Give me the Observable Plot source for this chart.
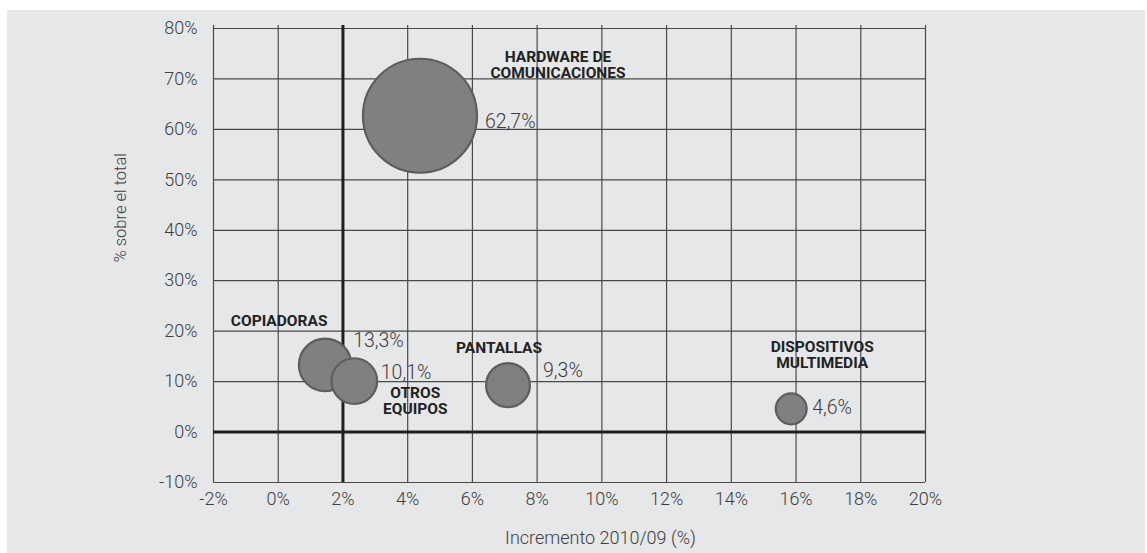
<!DOCTYPE html>
<html>
<head>
<meta charset="utf-8">
<script src="https://cdn.jsdelivr.net/npm/d3@7"></script>
<script src="https://cdn.jsdelivr.net/npm/@observablehq/plot@0.6"></script>
<style>
  html, body { margin: 0; padding: 0; background: #ffffff; }
  #panel { position: absolute; left: 7px; top: 10px; width: 1138px; height: 543px; background: #e6e7e9; }
  #panel svg { display: block; background: transparent; }
</style>
</head>
<body>
<div id="panel"></div>
<script>
// ---- data ----
const categories = ["HARDWARE DE\nCOMUNICACIONES", "COPIADORAS", "OTROS\nEQUIPOS", "PANTALLAS", "DISPOSITIVOS\nMULTIMEDIA"];
const growth = [4.38, 1.45, 2.35, 7.1, 15.85];          // Incremento 2010/09 (%)
const share = [62.7, 13.3, 10.1, 9.3, 4.6];              // % sobre el total
const shareLabels = ["62,7%", "13,3%", "10,1%", "9,3%", "4,6%"];
const xTicks = [-2, 0, 2, 4, 6, 8, 10, 12, 14, 16, 18, 20];
const yTicks = [-10, 0, 10, 20, 30, 40, 50, 60, 70, 80];
const xTitle = "Incremento 2010/09 (%)";
const yTitle = "% sobre el total";

const data = categories.map((c, i) => ({cat: c, growth: growth[i], share: share[i], label: shareLabels[i]}));

// annotation offsets (px) relative to each bubble centre
const valueOffsets = [[65, 6], [28, -24], [26.5, -8], [35, -14], [21, -1]];
const catOffsets = [[138, -50.5], [-46, -44], [61, 20], [-9, -37], [31, -54]];

const gridColor = "#4a4a4a";
const textColor = "#3d3d3d";
const font = "Roboto, 'Liberation Sans', sans-serif";

const marks = [
  Plot.ruleX(xTicks, {x: d => d, stroke: gridColor, strokeWidth: 1.2, insetTop: -3}),
  Plot.ruleY(yTicks, {y: d => d, stroke: gridColor, strokeWidth: 1.2}),
  Plot.ruleX([2], {x: d => d, stroke: "#1f1f1f", strokeWidth: 3, insetTop: -3}),
  Plot.ruleY([0], {y: d => d, stroke: "#1f1f1f", strokeWidth: 3}),
  Plot.axisX(xTicks, {tickSize: 0, tickPadding: 10, tickFormat: d => d + "%", fontSize: 18, fontWeight: 300, fill: textColor, label: null}),
  Plot.axisY(yTicks, {tickSize: 0, tickPadding: 16, tickFormat: d => d + "%", fontSize: 18, fontWeight: 300, fill: textColor, label: null}),
  Plot.dot(data, {x: "growth", y: "share", r: "share", fill: "#808083", stroke: "#5d5d5f", strokeWidth: 2.2, fillOpacity: 1}),
  Plot.text([xTitle], {frameAnchor: "bottom", dy: 56, dx: 31, text: d => d, fontSize: 18, fontWeight: 300, fill: textColor, lineAnchor: "middle"}),
  Plot.text([yTitle], {frameAnchor: "left", dx: -93, dy: 7, rotate: -90, text: d => d, fontSize: 16.5, fontWeight: 300, fill: textColor, lineAnchor: "middle"})
];

data.forEach((d, i) => {
  marks.push(Plot.text([d], {
    x: "growth", y: "share", text: "label",
    dx: valueOffsets[i][0], dy: valueOffsets[i][1],
    textAnchor: "start", lineAnchor: "middle",
    fontSize: 19.5, fontWeight: 300, fill: textColor
  }));
  marks.push(Plot.text([d], {
    x: "growth", y: "share", text: "cat",
    dx: catOffsets[i][0], dy: catOffsets[i][1],
    textAnchor: "middle", lineAnchor: "middle", lineHeight: 1.03,
    fontSize: 15.5, fontWeight: 700, fill: "#222222"
  }));
});

const chart = Plot.plot({
  width: 1138,
  height: 543,
  marginLeft: 206,
  marginRight: 220,
  marginTop: 18,
  marginBottom: 71,
  style: {fontFamily: font, background: "transparent", color: textColor, overflow: "visible"},
  x: {domain: [-2, 20], label: null},
  y: {domain: [-10, 80], label: null},
  r: {type: "sqrt", domain: [0, 62.7], range: [0, 57]},
  marks
});
document.getElementById("panel").appendChild(chart);
</script>
</body>
</html>
